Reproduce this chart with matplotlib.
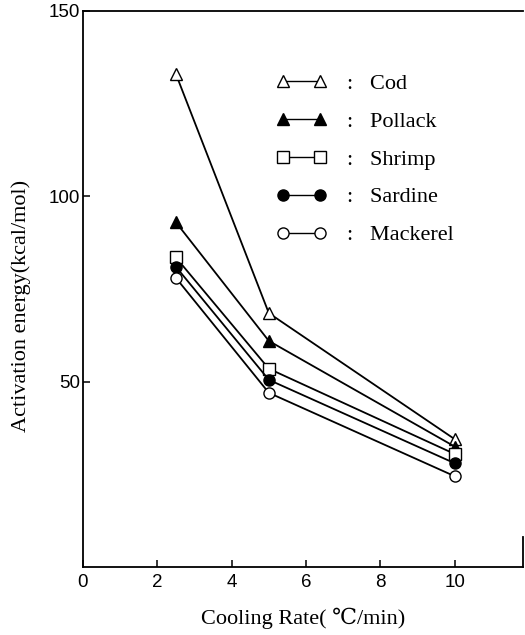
import matplotlib
matplotlib.use("Agg")
import matplotlib.pyplot as plt
from matplotlib.lines import Line2D
from matplotlib.legend_handler import HandlerLine2D

cooling_rate = [2.5, 5, 10]
cod = [133, 68.5, 34.5]
pollack = [93, 61, 32.5]
shrimp = [83.5, 53.5, 30.5]
sardine = [81, 50.5, 28]
mackerel = [78, 47, 24.5]

series_names = ["Cod", "Pollack", "Shrimp", "Sardine", "Mackerel"]
series_values = [cod, pollack, shrimp, sardine, mackerel]
markers = ["^", "^", "s", "o", "o"]
fills = ["white", "black", "white", "black", "white"]

x_ticks = [0, 2, 4, 6, 8, 10]
y_ticks = [50, 100, 150]

serif = ["Liberation Serif", "DejaVu Serif", "Noto Sans CJK JP"]

fig = plt.figure(figsize=(5.25, 6.35), dpi=100)
ax = fig.add_axes([83/525, 1-567/635, (523-83)/525, (567-11)/635])

for name, vals, m, fc in zip(series_names, series_values, markers, fills):
    ax.plot(cooling_rate, vals, color="black", lw=1.3, marker=m, ms=8,
            mfc=fc, mec="black", mew=1.0, label=name, zorder=3)

ax.set_xlim(0, 11.84)
ax.set_ylim(0, 150)
ax.set_xticks(x_ticks)
ax.set_yticks(y_ticks)
ax.set_xticklabels([str(t) for t in x_ticks], family="Liberation Sans", fontsize=13.5)
ax.set_yticklabels([str(t) for t in y_ticks], family="Liberation Sans", fontsize=13.5)
ax.tick_params(axis="both", direction="in", length=5, width=1.1, pad=5)
ax.tick_params(axis="y", pad=2)
for s in ["left", "bottom", "top", "right"]:
    ax.spines[s].set_linewidth(1.3)
ax.spines["right"].set_bounds(0, 8)

ax.set_xlabel("Cooling Rate( ℃/min)", family=serif, fontsize=16, labelpad=12)
ax.set_ylabel("Activation energy(kcal/mol)", family=serif, fontsize=16)
ax.yaxis.set_label_coords(-0.118, 0.47)

handles = [Line2D([0], [0], color="black", lw=1.0, marker=m, ms=8, mfc=fc, mec="black")
           for m, fc in zip(markers, fills)]
leg = ax.legend(handles, [":   " + n for n in series_names], loc="upper left",
                bbox_to_anchor=(0.4545, 0.888), frameon=False,
                handler_map={Line2D: HandlerLine2D(marker_pad=0, numpoints=2)},
                borderaxespad=0, borderpad=0,
                handlelength=1.68, handletextpad=1.2, labelspacing=0.78,
                prop={"family": "Liberation Serif", "size": 16})

fig.savefig("out.png", dpi=100)
